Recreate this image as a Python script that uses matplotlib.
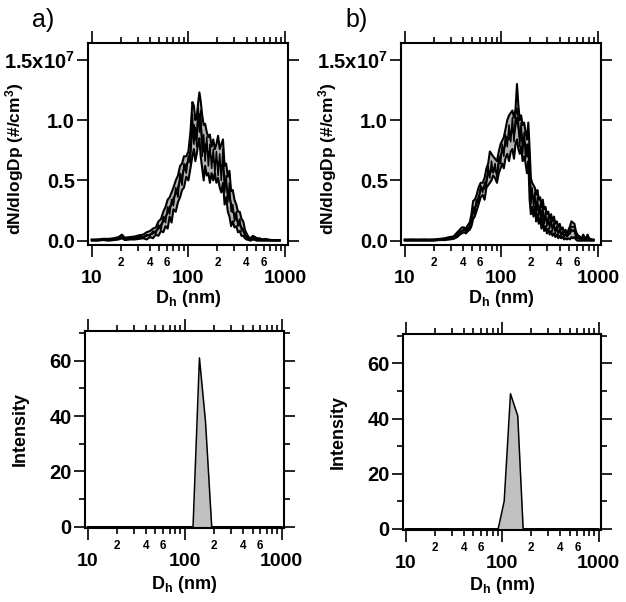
import numpy as np
import matplotlib
matplotlib.use("Agg")
import matplotlib.pyplot as plt
from matplotlib.ticker import LogLocator, FixedLocator, FuncFormatter

plt.rcParams['font.family'] = ['Liberation Sans', 'DejaVu Sans']
plt.rcParams['font.weight'] = 'bold'
plt.rcParams['mathtext.fontset'] = 'custom'
plt.rcParams['mathtext.rm'] = 'Liberation Sans:bold'
plt.rcParams['mathtext.it'] = 'Liberation Sans:bold'
plt.rcParams['mathtext.bf'] = 'Liberation Sans:bold'
plt.rcParams['mathtext.default'] = 'rm'

# ---------------- data ----------------
# panel a, SMPS size distributions (units of 1e6 #/cm3)
dp_a = [10, 11.5, 13, 15, 17, 19, 20.5, 22, 25, 28,
        31, 34, 37, 40, 43, 46, 49, 52, 55, 58,
        61, 64, 67, 70, 74, 78, 82, 86, 90, 95,
        100, 105, 110, 114, 118, 122, 126, 130, 134, 139,
        144, 149, 155, 161, 167, 174, 181, 188, 195, 203,
        211, 219, 228, 237, 246, 256, 266, 277, 288, 300,
        313, 326, 340, 355, 370, 385, 400, 420, 440, 465,
        490, 515, 545, 580, 620, 670, 730, 800, 880]
lo_a = [0.0, 0.0, 0.05, 0.0, 0.05, 0.1, 0.2, 0.05, 0.1, 0.1,
        0.15, 0.2, 0.1, 0.3, 0.2, 0.5, 0.4, 0.8, 0.7, 1.2,
        1.0, 2.0, 1.5, 2.6, 2.4, 3.2, 3.6, 4.2, 4.4, 5.3,
        5.0, 6.0, 7.0, 7.6, 6.6, 7.2, 8.0, 8.5, 7.0, 6.0,
        5.0, 6.2, 5.4, 5.6, 4.8, 5.6, 5.0, 5.6, 4.8, 5.2,
        4.4, 4.0, 4.8, 3.0, 3.6, 2.4, 2.0, 1.2, 1.6, 1.1,
        1.2, 0.7, 0.8, 0.4, 0.4, 0.2, 0.1, 0.05, 0.0, 0.1,
        0.05, 0.0, 0.0, 0.0, 0.0, 0.0, 0.0, 0.0, 0.0]
mid_a = [0.05, 0.05, 0.1, 0.1, 0.1, 0.2, 0.3, 0.15, 0.2, 0.2,
         0.3, 0.3, 0.4, 0.5, 0.6, 0.8, 1.0, 1.3, 1.6, 2.0,
         2.3, 2.8, 3.0, 3.5, 3.9, 4.4, 5.0, 5.4, 5.9, 6.3,
         6.6, 7.5, 9.0, 9.6, 8.4, 8.8, 10.2, 10.5, 9.6, 8.3,
         7.4, 8.0, 7.6, 7.2, 7.1, 6.8, 6.6, 6.5, 6.7, 6.4,
         6.5, 6.0, 6.2, 5.0, 4.6, 4.0, 3.6, 3.0, 2.4, 2.2,
         1.8, 1.6, 1.3, 1.1, 0.8, 0.5, 0.3, 0.15, 0.1, 0.2,
         0.15, 0.1, 0.1, 0.05, 0.05, 0.05, 0.02, 0.02, 0.02]
hi_a = [0.1, 0.1, 0.15, 0.15, 0.2, 0.3, 0.5, 0.25, 0.3, 0.35,
        0.45, 0.5, 0.7, 0.8, 1.0, 1.1, 1.6, 1.8, 2.4, 2.8,
        3.4, 3.6, 4.0, 4.4, 5.0, 5.4, 6.2, 6.4, 7.0, 7.0,
        7.4, 9.0, 11.5, 11.2, 10.0, 10.3, 11.4, 12.3, 11.6, 10.4,
        9.6, 9.7, 9.0, 8.6, 8.8, 7.8, 8.4, 7.6, 8.0, 8.7,
        7.6, 8.0, 8.4, 6.2, 6.4, 5.3, 5.8, 4.1, 4.2, 3.4,
        3.0, 2.4, 2.4, 1.8, 1.6, 0.9, 0.6, 0.3, 0.2, 0.4,
        0.3, 0.2, 0.2, 0.1, 0.15, 0.1, 0.05, 0.05, 0.05]
run_a = [0.05, 0.1, 0.05, 0.1, 0.15, 0.25, 0.2, 0.1, 0.25, 0.15,
         0.35, 0.25, 0.5, 0.4, 0.8, 0.6, 1.3, 0.9, 2.0, 1.5,
         2.8, 2.2, 3.4, 2.9, 4.4, 3.6, 5.6, 4.6, 6.4, 5.6,
         7.0, 6.4, 10.5, 8.0, 9.4, 7.8, 11.0, 9.0, 10.8, 7.0,
         8.8, 6.6, 8.6, 6.2, 8.0, 6.0, 7.6, 5.6, 7.4, 5.4,
         7.2, 5.0, 7.6, 4.0, 5.4, 3.2, 4.8, 2.4, 3.0, 1.6,
         2.4, 1.2, 1.8, 0.8, 1.0, 0.4, 0.4, 0.1, 0.15, 0.3,
         0.1, 0.15, 0.05, 0.1, 0.05, 0.05, 0.0, 0.05, 0.0]

# panel b
dp_b = [10, 12, 14, 16, 18, 20, 23, 26, 29, 32,
        35, 37, 39, 41, 43, 45, 47, 49, 51, 53,
        55, 58, 61, 64, 67, 70, 73, 76, 79, 82,
        86, 90, 94, 98, 102, 106, 110, 115, 120, 125,
        130, 135, 140, 145, 150, 155, 160, 166, 172, 178,
        184, 190, 196, 202, 208, 215, 222, 229, 236, 244,
        252, 260, 268, 277, 286, 296, 306, 316, 327, 338,
        350, 362, 375, 388, 402, 416, 431, 446, 462, 478,
        495, 513, 531, 550, 570, 590, 611, 633, 655, 678,
        702, 727, 753, 780, 808, 837, 867, 900]
lo_b = [0.0, 0.0, 0.0, 0.0, 0.0, 0.0, 0.05, 0.05, 0.1, 0.15,
        0.3, 0.5, 0.6, 0.7, 0.6, 0.8, 0.9, 1.2, 1.8, 2.0,
        2.4, 3.0, 3.6, 3.8, 3.4, 4.4, 4.6, 4.8, 5.0, 5.4,
        5.2, 4.8, 5.6, 6.0, 6.4, 6.0, 6.8, 7.2, 6.6, 7.4,
        7.6, 6.8, 8.0, 8.4, 7.6, 7.2, 7.8, 6.6, 7.0, 6.4,
        5.6, 6.6, 3.4, 2.2, 2.8, 2.0, 2.8, 1.6, 2.2, 1.4,
        1.9, 1.0, 1.8, 0.8, 1.2, 0.6, 1.0, 0.5, 0.8, 0.4,
        0.6, 0.3, 0.5, 0.2, 0.4, 0.2, 0.3, 0.1, 0.2, 0.1,
        0.2, 0.1, 0.3, 0.2, 0.3, 0.1, 0.0, 0.0, 0.0, 0.0,
        0.0, 0.0, 0.0, 0.0, 0.0, 0.0, 0.0, 0.0]
mid_b = [0.05, 0.05, 0.05, 0.05, 0.05, 0.05, 0.1, 0.1, 0.2, 0.25,
         0.5, 0.7, 0.8, 0.9, 0.8, 1.0, 1.1, 1.6, 2.4, 2.7,
         3.0, 3.6, 4.2, 4.4, 4.3, 5.0, 5.5, 5.6, 5.8, 6.0,
         5.8, 5.6, 6.4, 7.0, 7.4, 7.6, 8.0, 8.6, 8.4, 9.0,
         9.2, 8.8, 9.6, 10.2, 9.4, 8.6, 9.0, 8.2, 8.4, 7.8,
         7.0, 8.0, 5.6, 3.8, 3.8, 3.6, 3.4, 2.8, 3.0, 2.4,
         2.6, 2.0, 2.4, 1.8, 1.9, 1.6, 1.6, 1.3, 1.4, 1.1,
         1.2, 0.9, 0.9, 0.7, 0.8, 0.6, 0.6, 0.4, 0.5, 0.4,
         0.5, 0.6, 0.9, 0.8, 0.9, 0.4, 0.2, 0.2, 0.1, 0.1,
         0.2, 0.1, 0.1, 0.2, 0.1, 0.05, 0.05, 0.05]
hi_b = [0.1, 0.1, 0.1, 0.1, 0.1, 0.1, 0.15, 0.2, 0.3, 0.35,
        0.7, 0.9, 1.1, 1.1, 1.0, 1.3, 1.5, 2.2, 3.3, 3.4,
        3.7, 4.4, 4.8, 4.8, 5.2, 6.0, 6.4, 7.4, 7.2, 7.0,
        6.8, 6.6, 7.4, 8.0, 8.3, 8.6, 9.2, 10.0, 10.4, 10.6,
        10.8, 10.2, 10.9, 13.0, 11.2, 10.0, 10.4, 9.6, 9.8, 9.0,
        8.4, 9.8, 7.6, 5.2, 4.8, 4.6, 4.4, 3.8, 4.2, 3.4,
        3.6, 2.8, 3.4, 2.6, 2.8, 2.2, 2.4, 1.8, 2.2, 1.6,
        2.0, 1.4, 1.6, 1.1, 1.4, 0.9, 1.1, 0.7, 0.9, 0.6,
        0.9, 1.2, 1.6, 1.5, 1.4, 0.8, 0.5, 0.4, 0.3, 0.2,
        0.5, 0.3, 0.2, 0.5, 0.2, 0.15, 0.1, 0.1]
run_b = [0.05, 0.1, 0.05, 0.1, 0.05, 0.1, 0.05, 0.15, 0.15, 0.3,
         0.4, 0.8, 0.7, 1.0, 0.9, 0.9, 1.3, 1.4, 2.8, 2.2,
         3.4, 3.2, 4.6, 4.0, 4.8, 4.6, 6.2, 5.2, 6.6, 5.6,
         6.4, 5.2, 7.0, 6.4, 8.0, 7.0, 8.8, 7.8, 9.6, 8.2,
         10.2, 8.2, 10.4, 11.0, 10.0, 7.8, 9.8, 7.2, 9.0, 6.8,
         8.0, 7.0, 6.4, 3.0, 4.4, 2.8, 4.0, 2.2, 3.6, 2.0,
         3.0, 1.6, 2.8, 1.4, 2.4, 1.2, 2.0, 1.0, 1.8, 0.8,
         1.5, 0.6, 1.2, 0.5, 1.0, 0.4, 0.8, 0.3, 0.7, 0.3,
         0.7, 0.9, 1.2, 1.1, 1.2, 0.6, 0.3, 0.3, 0.2, 0.1,
         0.3, 0.2, 0.1, 0.3, 0.1, 0.1, 0.05, 0.05]

# DLS intensity distributions
dls_d_a = [10, 122, 142, 164, 190, 1000]
dls_i_a = [0, 0, 61, 38, 0, 0]
dls_d_b = [10, 91, 105, 122, 145, 165, 1000]
dls_i_b = [0, 0, 10, 49, 41, 0, 0]

smps_yticks = [0, 5, 10, 15]
smps_yticklabels = ['0.0', '0.5', '1.0', '1.5x10$^{7}$']
dls_yticks = [0, 20, 40, 60]
dls_yminor = [10, 30, 50, 70]
x_major = [10, 100, 1000]

# ---------------- figure ----------------
W, H = 626, 602
fig = plt.figure(figsize=(W / 100, H / 100), dpi=100)


def px_axes(l, t, r, b):
    return fig.add_axes([l / W, 1 - b / H, (r - l) / W, (b - t) / H])


def minor_fmt(x, pos):
    m = x / 10 ** np.floor(np.log10(x) + 1e-9)
    m = int(round(m))
    return str(m) if m in (2, 4, 6) else ''


def style_x(ax, xlim):
    ax.set_xscale('log')
    ax.set_xlim(*xlim)
    ax.xaxis.set_major_locator(FixedLocator(x_major))
    ax.xaxis.set_major_formatter(FuncFormatter(lambda x, p: '%d' % round(x)))
    ax.xaxis.set_minor_locator(LogLocator(base=10, subs=np.arange(2, 10), numticks=20))
    ax.xaxis.set_minor_formatter(FuncFormatter(minor_fmt))
    ax.tick_params(axis='x', which='major', direction='out', length=8.5, width=1.2,
                   pad=9.5, labelsize=14, top=True, bottom=True)
    ax.tick_params(axis='x', which='minor', direction='out', length=4.6, width=1.2,
                   pad=4.2, labelsize=8.5, top=True, bottom=True)
    ax.set_xlabel('D$_{h}$ (nm)', fontsize=13, fontweight='bold')
    for s in ax.spines.values():
        s.set_linewidth(1.5)


def style_y(ax):
    ax.tick_params(axis='y', which='major', direction='out', length=8.0, width=1.2,
                   pad=1.5, labelsize=14.5, left=True, right=True)
    ax.tick_params(axis='y', which='minor', direction='out', length=4.6, width=1.2,
                   left=True, right=True)


# --- top panels
for (l, r), dp, lo, mid, hi, run in [((88, 288), dp_a, lo_a, mid_a, hi_a, run_a),
                                      ((401, 601), dp_b, lo_b, mid_b, hi_b, run_b)]:
    ax = px_axes(l, 43, r, 245)
    ax.fill_between(dp, lo, hi, color='#b3b3b3', lw=0)
    for ser in (lo, mid, hi):
        ax.plot(dp, ser, color='black', lw=1.5)
    ax.plot(dp, run, color='black', lw=1.1)
    style_x(ax, (10 ** 0.961, 10 ** 3.031))
    ax.set_ylim(-0.36, 16.4)
    ax.set_yticks(smps_yticks)
    ax.set_yticklabels(smps_yticklabels)
    style_y(ax)
    ax.set_ylabel('dN/dlogDp (#/cm$^{3}$)', fontsize=12.5, fontweight='bold')
    ax.yaxis.set_label_coords(-0.31, 0.425)
    ax.xaxis.set_label_coords(0.5, -0.215)

# --- bottom panels
for (l, t, r, b), d, inten in [((85, 331, 284, 528), dls_d_a, dls_i_a),
                               ((403, 334, 601, 530), dls_d_b, dls_i_b)]:
    ax = px_axes(l, t, r, b)
    ax.fill_between(d, 0, inten, color='#c0c0c0', lw=0)
    ax.plot(d, inten, color='black', lw=1.1)
    style_x(ax, (10 ** 0.974, 10 ** 3.023))
    ax.set_ylim(-0.45, 70.7)
    ax.set_yticks(dls_yticks)
    ax.set_yticks(dls_yminor, minor=True)
    style_y(ax)
    ax.set_ylabel('Intensity', fontsize=13, fontweight='bold')
    ax.yaxis.set_label_coords(-0.284, 0.5)
    ax.xaxis.set_label_coords(0.5, -0.232)

fig.text(43 / W, 1 - 20 / H, 'a)', fontsize=18, fontweight='normal', ha='center', va='center')
fig.text(357 / W, 1 - 20 / H, 'b)', fontsize=18, fontweight='normal', ha='center', va='center')

fig.savefig('out.png', dpi=100)
